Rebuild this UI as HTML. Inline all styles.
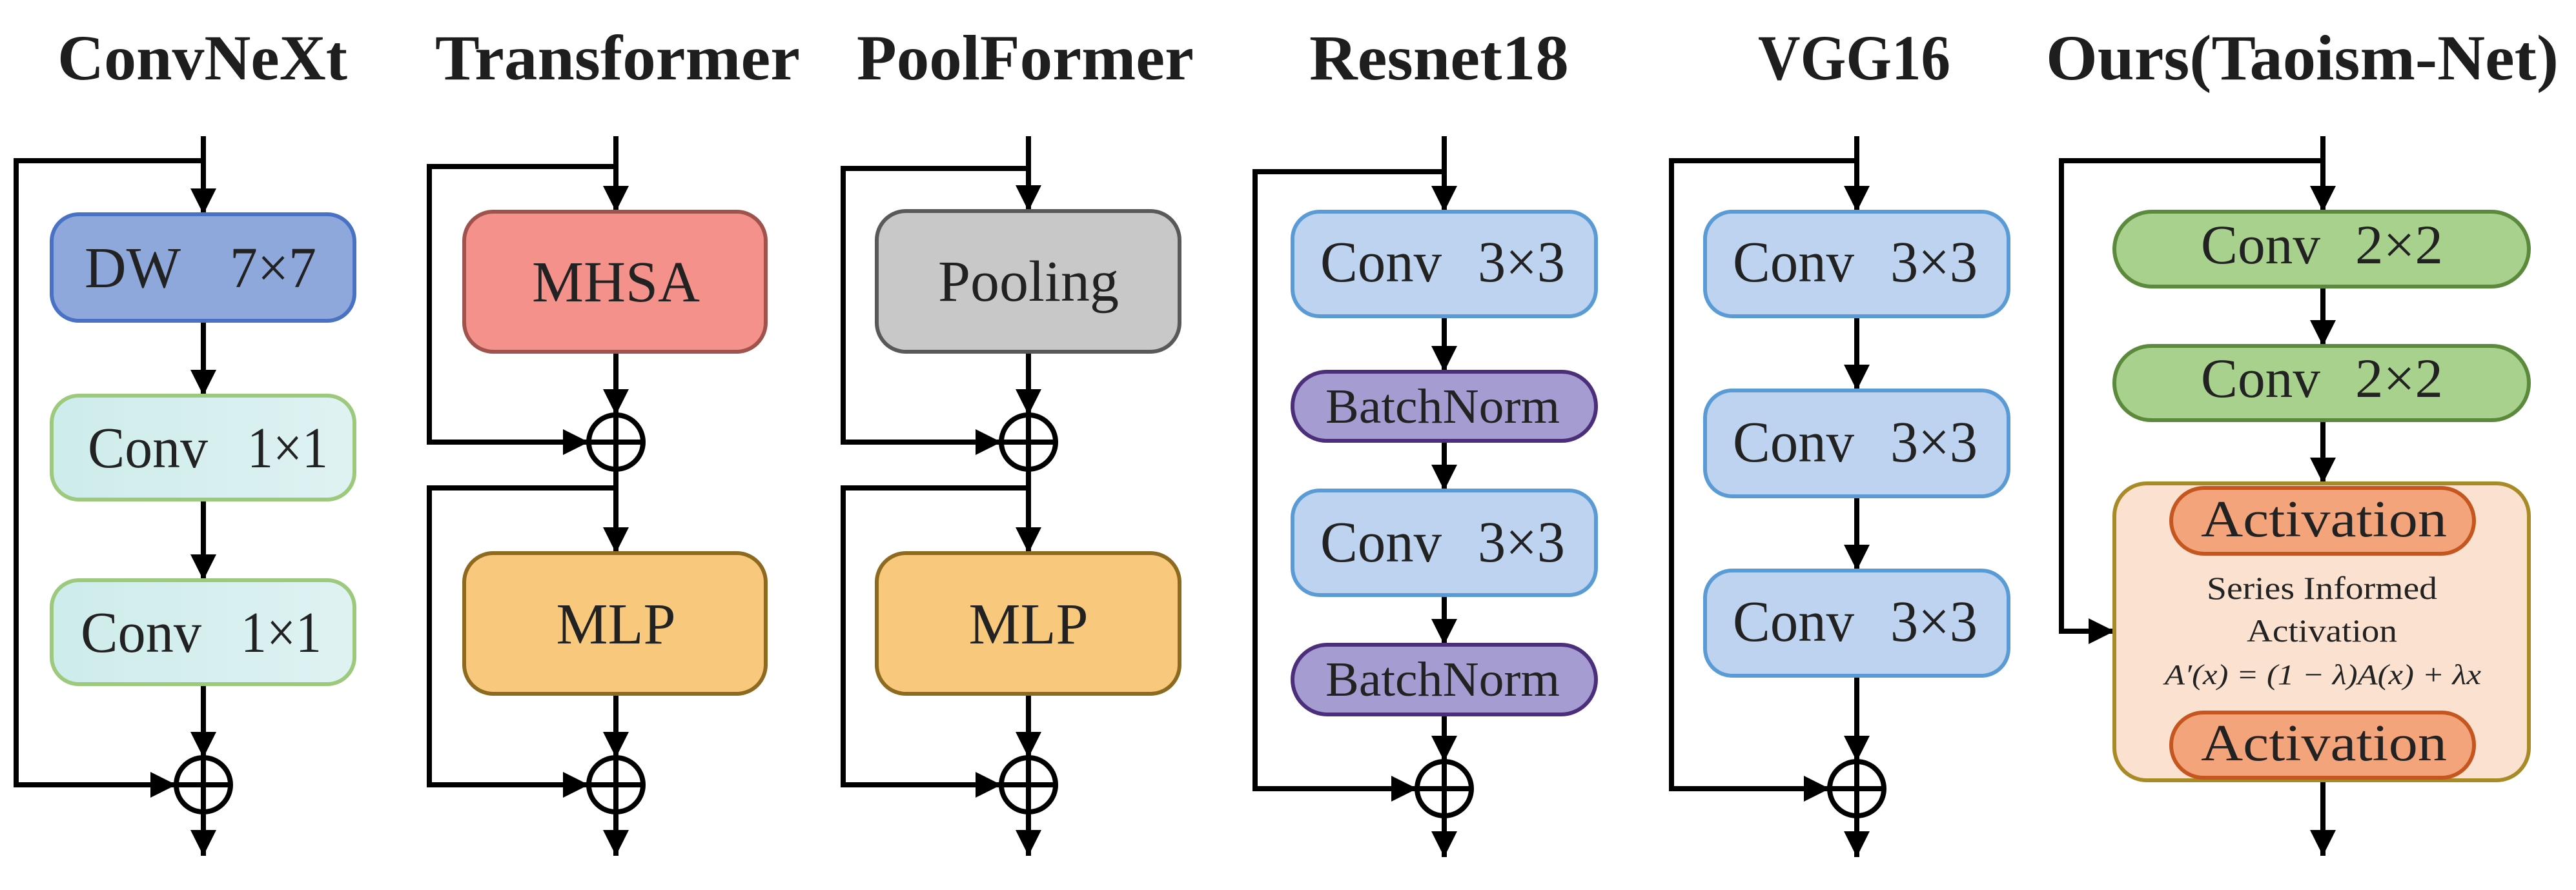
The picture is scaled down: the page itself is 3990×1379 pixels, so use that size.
<!DOCTYPE html>
<html><head><meta charset="utf-8"><style>
html,body{margin:0;padding:0;background:#fff;}
svg{display:block;}
text{font-family:"Liberation Serif",serif;fill:#222;}
.t{font-weight:bold;font-size:100px;fill:#1e1e1e;}
.l{font-size:90px;}
</style></head><body>
<svg width="3990" height="1379" viewBox="0 0 3990 1379" xmlns="http://www.w3.org/2000/svg">
<defs>
<marker id="a" markerUnits="userSpaceOnUse" markerWidth="44" markerHeight="40" refX="40" refY="20" orient="auto">
<path d="M0,0 L40,20 L0,40 Z" fill="#000"/>
</marker>
<linearGradient id="cy" x1="0" x2="1"><stop offset="0" stop-color="#cdeceb"/><stop offset="1" stop-color="#dff2f2"/></linearGradient>
</defs>
<g fill="none" stroke="#000" stroke-width="8">
<!-- ConvNeXt cx=315 -->
<line x1="315" y1="211" x2="315" y2="332" marker-end="url(#a)"/>
<path d="M315,249 H25 V1216 H273" marker-end="url(#a)"/>
<line x1="315" y1="497" x2="315" y2="613" marker-end="url(#a)"/>
<line x1="315" y1="774" x2="315" y2="899" marker-end="url(#a)"/>
<line x1="315" y1="1060" x2="315" y2="1174" marker-end="url(#a)"/>
<line x1="315" y1="1174" x2="315" y2="1326" marker-end="url(#a)"/>
<circle cx="315" cy="1216" r="42"/><line x1="273" y1="1216" x2="357" y2="1216"/>
<!-- Transformer cx=954 -->
<line x1="954" y1="211" x2="954" y2="328" marker-end="url(#a)"/>
<path d="M954,258 H665 V685 H912" marker-end="url(#a)"/>
<line x1="954" y1="545" x2="954" y2="643" marker-end="url(#a)"/>
<circle cx="954" cy="685" r="42"/><line x1="912" y1="685" x2="996" y2="685"/>
<line x1="954" y1="643" x2="954" y2="857" marker-end="url(#a)"/>
<path d="M954,756 H665 V1216 H912" marker-end="url(#a)"/>
<line x1="954" y1="1075" x2="954" y2="1174" marker-end="url(#a)"/>
<line x1="954" y1="1174" x2="954" y2="1326" marker-end="url(#a)"/>
<circle cx="954" cy="1216" r="42"/><line x1="912" y1="1216" x2="996" y2="1216"/>
<!-- PoolFormer cx=1593 -->
<line x1="1593" y1="211" x2="1593" y2="327" marker-end="url(#a)"/>
<path d="M1593,261 H1306 V685 H1551" marker-end="url(#a)"/>
<line x1="1593" y1="545" x2="1593" y2="643" marker-end="url(#a)"/>
<circle cx="1593" cy="685" r="42"/><line x1="1551" y1="685" x2="1635" y2="685"/>
<line x1="1593" y1="643" x2="1593" y2="857" marker-end="url(#a)"/>
<path d="M1593,756 H1306 V1216 H1551" marker-end="url(#a)"/>
<line x1="1593" y1="1075" x2="1593" y2="1174" marker-end="url(#a)"/>
<line x1="1593" y1="1174" x2="1593" y2="1326" marker-end="url(#a)"/>
<circle cx="1593" cy="1216" r="42"/><line x1="1551" y1="1216" x2="1635" y2="1216"/>
<!-- Resnet cx=2237 -->
<line x1="2237" y1="211" x2="2237" y2="328" marker-end="url(#a)"/>
<path d="M2237,266 H1944 V1222 H2195" marker-end="url(#a)"/>
<line x1="2237" y1="490" x2="2237" y2="576" marker-end="url(#a)"/>
<line x1="2237" y1="683" x2="2237" y2="760" marker-end="url(#a)"/>
<line x1="2237" y1="922" x2="2237" y2="999" marker-end="url(#a)"/>
<line x1="2237" y1="1107" x2="2237" y2="1180" marker-end="url(#a)"/>
<line x1="2237" y1="1180" x2="2237" y2="1328" marker-end="url(#a)"/>
<circle cx="2237" cy="1222" r="42"/><line x1="2195" y1="1222" x2="2279" y2="1222"/>
<!-- VGG cx=2876 -->
<line x1="2876" y1="211" x2="2876" y2="328" marker-end="url(#a)"/>
<path d="M2876,249 H2589 V1222 H2834" marker-end="url(#a)"/>
<line x1="2876" y1="490" x2="2876" y2="605" marker-end="url(#a)"/>
<line x1="2876" y1="769" x2="2876" y2="884" marker-end="url(#a)"/>
<line x1="2876" y1="1047" x2="2876" y2="1180" marker-end="url(#a)"/>
<line x1="2876" y1="1180" x2="2876" y2="1328" marker-end="url(#a)"/>
<circle cx="2876" cy="1222" r="42"/><line x1="2834" y1="1222" x2="2918" y2="1222"/>
<!-- Ours cx=3598 -->
<line x1="3598" y1="211" x2="3598" y2="328" marker-end="url(#a)"/>
<path d="M3598,249 H3193 V978 H3275" marker-end="url(#a)"/>
<line x1="3598" y1="444" x2="3598" y2="536" marker-end="url(#a)"/>
<line x1="3598" y1="651" x2="3598" y2="749" marker-end="url(#a)"/>
<line x1="3598" y1="1209" x2="3598" y2="1326" marker-end="url(#a)"/>
</g>

<!-- Boxes -->
<g stroke-width="6">
<rect x="80" y="332" width="469" height="165" rx="42" fill="#8ea8dc" stroke="#4a72c4"/>
<rect x="80" y="613" width="469" height="161" rx="42" fill="url(#cy)" stroke="#9cc97c"/>
<rect x="80" y="899" width="469" height="161" rx="42" fill="url(#cy)" stroke="#9cc97c"/>
<rect x="719" y="328" width="467" height="217" rx="45" fill="#f4918a" stroke="#a0524c"/>
<rect x="719" y="857" width="467" height="218" rx="45" fill="#f8c97c" stroke="#8e6a20"/>
<rect x="1358" y="327" width="469" height="218" rx="45" fill="#c8c8c8" stroke="#595959"/>
<rect x="1358" y="857" width="469" height="218" rx="45" fill="#f8c97c" stroke="#8e6a20"/>
<rect x="2002" y="328" width="470" height="162" rx="42" fill="#bdd3ef" stroke="#5b9bd5"/>
<rect x="2002" y="576" width="470" height="107" rx="53" fill="#a59dd2" stroke="#4b2f7a"/>
<rect x="2002" y="760" width="470" height="162" rx="42" fill="#bdd3ef" stroke="#5b9bd5"/>
<rect x="2002" y="999" width="470" height="108" rx="54" fill="#a59dd2" stroke="#4b2f7a"/>
<rect x="2641" y="328" width="470" height="162" rx="42" fill="#bdd3ef" stroke="#5b9bd5"/>
<rect x="2641" y="605" width="470" height="164" rx="42" fill="#bdd3ef" stroke="#5b9bd5"/>
<rect x="2641" y="884" width="470" height="163" rx="42" fill="#bdd3ef" stroke="#5b9bd5"/>
<rect x="3275" y="328" width="642" height="116" rx="58" fill="#a9d18e" stroke="#5b8a3c"/>
<rect x="3275" y="536" width="642" height="115" rx="57" fill="#a9d18e" stroke="#5b8a3c"/>
<rect x="3275" y="749" width="642" height="460" rx="50" fill="#fbe1cf" stroke="#a88b26"/>
<rect x="3363" y="756" width="469" height="102" rx="51" fill="#f4a47a" stroke="#c5561f"/>
<rect x="3363" y="1104" width="469" height="101" rx="50" fill="#f4a47a" stroke="#c5561f"/>
</g>

<!-- Titles -->
<text class="t" x="89" y="123" textLength="449" lengthAdjust="spacingAndGlyphs">ConvNeXt</text>
<text class="t" x="674" y="123" textLength="565" lengthAdjust="spacingAndGlyphs">Transformer</text>
<text class="t" x="1327" y="123" textLength="522" lengthAdjust="spacingAndGlyphs">PoolFormer</text>
<text class="t" x="2028" y="123" textLength="402" lengthAdjust="spacingAndGlyphs">Resnet18</text>
<text class="t" x="2723" y="123" textLength="298" lengthAdjust="spacingAndGlyphs">VGG16</text>
<text class="t" x="3169" y="123" textLength="794" lengthAdjust="spacingAndGlyphs">Ours(Taoism-Net)</text>

<!-- Labels -->
<text class="l" x="131" y="445" textLength="149" lengthAdjust="spacingAndGlyphs">DW</text>
<text class="l" x="356" y="445" textLength="134" lengthAdjust="spacingAndGlyphs">7×7</text>
<text class="l" x="136" y="724" textLength="186" lengthAdjust="spacingAndGlyphs">Conv</text>
<text class="l" x="383" y="724" textLength="125" lengthAdjust="spacingAndGlyphs">1×1</text>
<text class="l" x="125" y="1010" textLength="187" lengthAdjust="spacingAndGlyphs">Conv</text>
<text class="l" x="373" y="1010" textLength="125" lengthAdjust="spacingAndGlyphs">1×1</text>
<text class="l" x="954" y="467" text-anchor="middle">MHSA</text>
<text class="l" x="954" y="997" text-anchor="middle">MLP</text>
<text class="l" x="1593" y="466" text-anchor="middle">Pooling</text>
<text class="l" x="1593" y="997" text-anchor="middle">MLP</text>

<g class="l">
<text class="l" x="2045" y="436" textLength="188" lengthAdjust="spacingAndGlyphs">Conv</text>
<text class="l" x="2289" y="436" textLength="135" lengthAdjust="spacingAndGlyphs">3×3</text>
<text class="l" x="2045" y="870" textLength="188" lengthAdjust="spacingAndGlyphs">Conv</text>
<text class="l" x="2289" y="870" textLength="135" lengthAdjust="spacingAndGlyphs">3×3</text>
<text class="l" x="2684" y="436" textLength="188" lengthAdjust="spacingAndGlyphs">Conv</text>
<text class="l" x="2928" y="436" textLength="135" lengthAdjust="spacingAndGlyphs">3×3</text>
<text class="l" x="2684" y="715" textLength="188" lengthAdjust="spacingAndGlyphs">Conv</text>
<text class="l" x="2928" y="715" textLength="135" lengthAdjust="spacingAndGlyphs">3×3</text>
<text class="l" x="2684" y="993" textLength="188" lengthAdjust="spacingAndGlyphs">Conv</text>
<text class="l" x="2928" y="993" textLength="135" lengthAdjust="spacingAndGlyphs">3×3</text>
</g>
<text x="2053" y="655" font-size="76" textLength="363" lengthAdjust="spacingAndGlyphs">BatchNorm</text>
<text x="2053" y="1078" font-size="76" textLength="363" lengthAdjust="spacingAndGlyphs">BatchNorm</text>

<text x="3409" y="408" font-size="86" textLength="185" lengthAdjust="spacingAndGlyphs">Conv</text>
<text x="3648" y="408" font-size="86" textLength="136" lengthAdjust="spacingAndGlyphs">2×2</text>
<text x="3409" y="615" font-size="86" textLength="185" lengthAdjust="spacingAndGlyphs">Conv</text>
<text x="3648" y="615" font-size="86" textLength="136" lengthAdjust="spacingAndGlyphs">2×2</text>
<text x="3409" y="831" font-size="80" textLength="381" lengthAdjust="spacingAndGlyphs">Activation</text>
<text x="3418" y="928" font-size="50" textLength="357" lengthAdjust="spacingAndGlyphs">Series Informed</text>
<text x="3480" y="994" font-size="50" textLength="233" lengthAdjust="spacingAndGlyphs">Activation</text>
<text x="3353" y="1060" font-size="44" font-style="italic" textLength="490" lengthAdjust="spacingAndGlyphs">A′(x) = (1 − λ)A(x) + λx</text>
<text x="3409" y="1178" font-size="80" textLength="381" lengthAdjust="spacingAndGlyphs">Activation</text>
</svg>
</body></html>
